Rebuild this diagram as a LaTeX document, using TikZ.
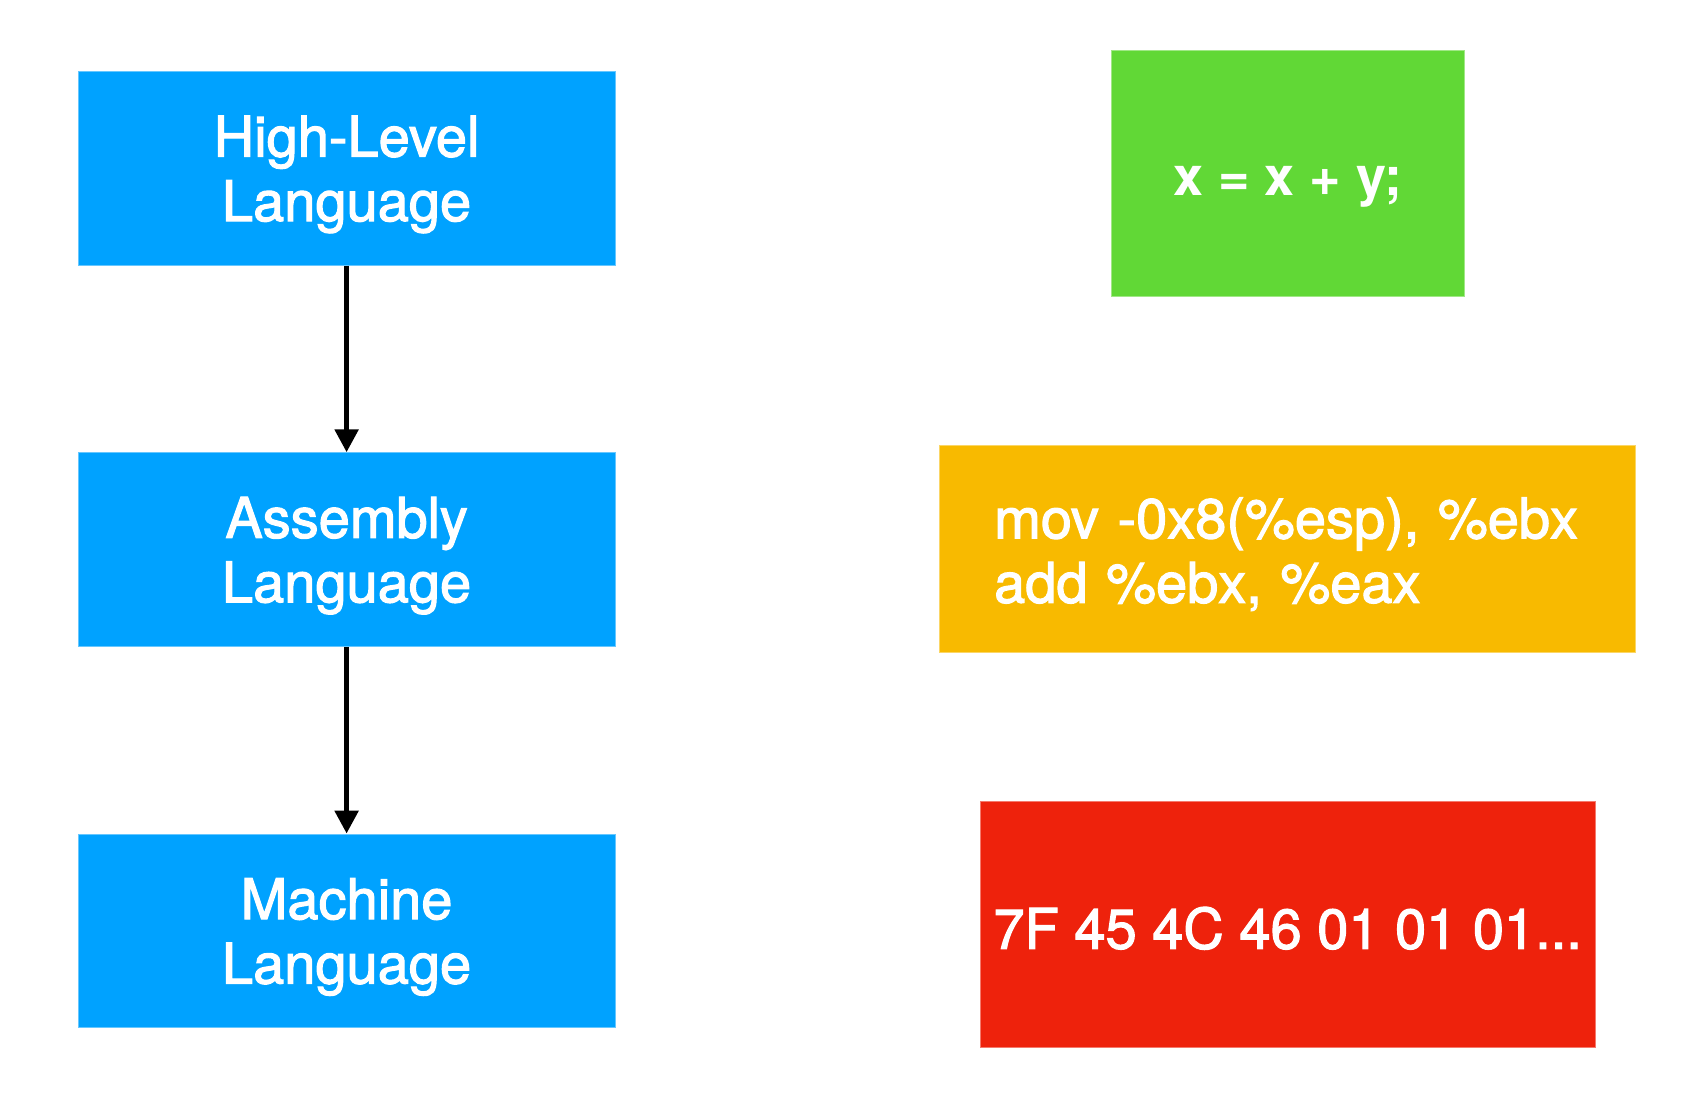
\documentclass[tikz,border=0pt]{standalone}
\usepackage{fontspec}
\setmainfont{TeX Gyre Heros}
\newfontfamily\medfont{TeX Gyre Heros}[FakeBold=2]
\newfontfamily\boldfont{TeX Gyre Heros Bold}
\usetikzlibrary{arrows.meta}
\definecolor{kblue}{HTML}{00A2FF}
\definecolor{kgreen}{HTML}{61D836}
\definecolor{korange}{HTML}{F8BA00}
\definecolor{kred}{HTML}{EE220C}
\begin{document}
\begin{tikzpicture}[x=0.5pt,y=-0.5pt,
  every node/.style={font=\medfont\fontsize{28}{32.2}\selectfont, text=white, inner sep=0pt},
  langbox/.style={fill=kblue, draw=kblue!60!white, line width=0.4pt, minimum width=268.6pt, minimum height=96.9pt, align=center, text depth=-2.6pt},
  flow/.style={line width=2.7pt, -{Triangle[length=11.5pt,width=11.5pt]}}
]
\useasboundingbox (0,0) rectangle (1699,1107);
\fill[white] (0,0) rectangle (1699,1107);
\node[langbox] (hl) at (346.6,168.4) {High-Level\\Language};
\node[langbox] (asm) at (346.6,549.6) {Assembly\\Language};
\node[langbox] (mc) at (346.6,930.9) {Machine\\Language};
\draw[flow] (hl) -- (asm);
\draw[flow] (asm) -- (mc);
\node[fill=kgreen, draw=kgreen!60!white, line width=0.4pt, minimum width=176.5pt, minimum height=122.9pt, font=\boldfont\fontsize{27}{32}\selectfont, text height=21.3pt, text depth=0pt] (src) at (1287.7,173.8) {x = x + y;};
\node[fill=korange, draw=korange!60!white, line width=0.4pt, inner xsep=27.6pt, text width=293pt, minimum height=103.4pt, align=left, text height=20pt, text depth=30.2pt] (code) at (1287.2,548.5) {mov -0x8(\%esp), \%ebx\\add \%ebx, \%eax};
\node[fill=kred, draw=kred!60!white, line width=0.4pt, minimum width=307.6pt, minimum height=123pt, text height=24.4pt, text depth=0pt] (bin) at (1287.7,924.3) {7F 45 4C 46 01 01 01...};
\end{tikzpicture}
\end{document}
